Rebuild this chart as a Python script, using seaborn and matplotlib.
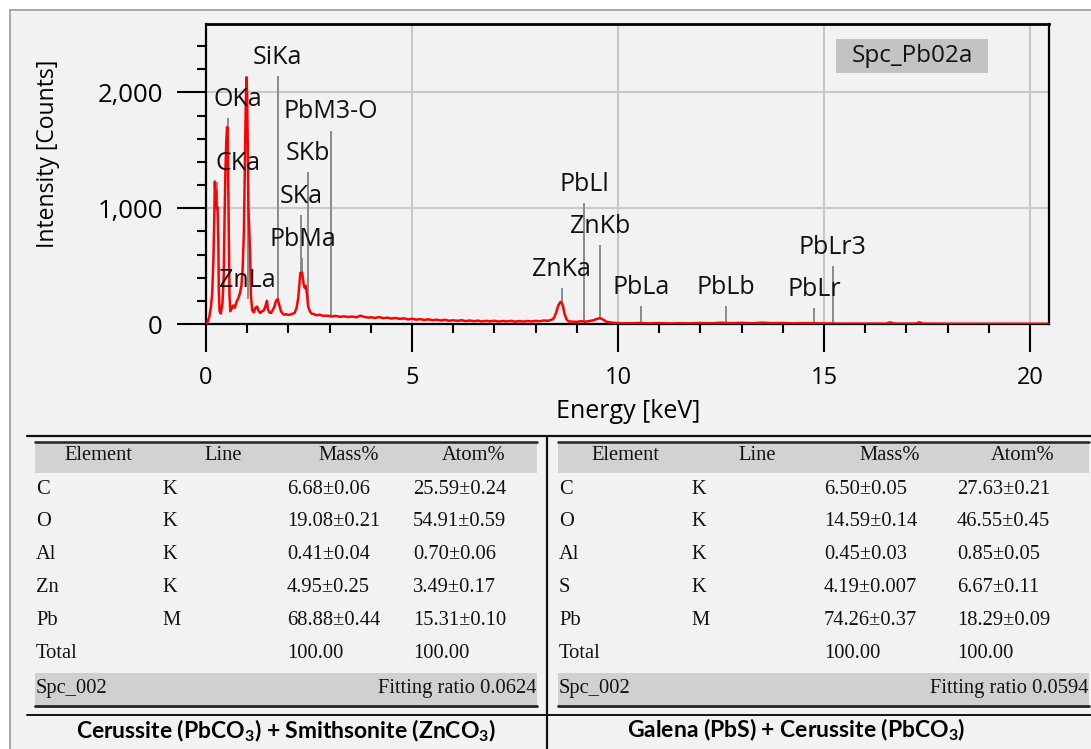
import numpy as np
import pandas as pd
import matplotlib
matplotlib.use("Agg")
import matplotlib.pyplot as plt
from matplotlib.patches import Rectangle
import seaborn as sns

# ---------------- spectrum values ----------------
energy_low = [0.00, 0.03, 0.08, 0.12, 0.15, 0.18, 0.20, 0.215, 0.23, 0.245, 0.26, 0.28, 0.30,
              0.31, 0.33, 0.36, 0.40, 0.43, 0.45, 0.47, 0.49, 0.51, 0.525, 0.54, 0.555, 0.57,
              0.59, 0.62, 0.66, 0.70, 0.74, 0.78, 0.82, 0.86, 0.89, 0.92, 0.945, 0.965, 0.985,
              1.00, 1.015, 1.03, 1.05, 1.07, 1.09, 1.12, 1.16, 1.20, 1.24, 1.28, 1.32, 1.36,
              1.40, 1.44, 1.48, 1.50, 1.54, 1.58, 1.62, 1.66, 1.70, 1.74, 1.78, 1.82, 1.86,
              1.90, 1.95, 2.00, 2.05, 2.10, 2.15, 2.20, 2.24, 2.27, 2.29, 2.31, 2.33, 2.35,
              2.37, 2.40, 2.42, 2.45, 2.48, 2.52, 2.56, 2.62, 2.68, 2.75, 2.85, 2.95, 3.05,
              3.15, 3.25, 3.35, 3.45, 3.55, 3.65, 3.75, 3.85, 3.95]
counts_low = [0, 10, 60, 150, 260, 560, 900, 1230, 1100, 1150, 1000, 1010, 700,
              300, 110, 90, 180, 420, 900, 1300, 1560, 1700, 1690, 1200, 700, 250,
              110, 130, 160, 140, 190, 220, 260, 330, 480, 800, 1400, 1900, 2130,
              1950, 1500, 1000, 800, 620, 250, 120, 100, 140, 150, 110, 95, 110,
              115, 150, 200, 130, 100, 95, 120, 150, 200, 215, 160, 110, 90,
              80, 85, 78, 82, 88, 95, 140, 230, 350, 440, 420, 445, 400,
              340, 310, 330, 260, 150, 110, 90, 85, 75, 80, 70, 72, 65,
              70, 62, 66, 60, 64, 58, 72, 60, 55]
energy_mid = [4.0, 4.1, 4.2, 4.3, 4.4, 4.5, 4.6, 4.7, 4.8, 4.9, 5.0, 5.1, 5.2, 5.3, 5.4,
              5.5, 5.6, 5.7, 5.8, 5.9, 6.0, 6.1, 6.2, 6.3, 6.4, 6.5, 6.6, 6.7, 6.8, 6.9,
              7.0, 7.1, 7.2, 7.3, 7.4, 7.5, 7.6, 7.7, 7.8, 7.9, 8.0, 8.1, 8.2, 8.3, 8.4,
              8.45, 8.5, 8.55, 8.6, 8.63, 8.66, 8.7, 8.75, 8.8, 8.9, 9.0, 9.1, 9.2, 9.3,
              9.4, 9.5, 9.55, 9.6, 9.65, 9.7, 9.8, 9.9]
counts_mid = [58, 52, 60, 50, 55, 47, 52, 44, 49, 40, 45, 38, 42, 35, 40,
              33, 37, 30, 36, 28, 32, 27, 33, 25, 30, 24, 29, 22, 27, 23,
              28, 21, 26, 22, 27, 20, 25, 21, 26, 22, 27, 24, 30, 28, 38,
              55, 100, 160, 190, 185, 160, 90, 40, 22, 20, 18, 24, 20, 25,
              32, 45, 50, 46, 35, 22, 14, 10]
energy_high = [10.0, 10.25, 10.5, 10.75, 11.0, 11.25, 11.5, 11.75, 12.0, 12.25, 12.5, 12.75,
               13.0, 13.25, 13.5, 13.75, 14.0, 14.25, 14.5, 14.75, 15.0, 15.25, 15.5, 15.75,
               16.0, 16.25, 16.5, 16.6, 16.7, 17.0, 17.25, 17.3, 17.4, 17.75, 18.0, 18.5,
               19.0, 19.5, 20.0, 20.46]
counts_high = [8, 6, 9, 5, 8, 4, 7, 5, 9, 6, 11, 7,
               10, 6, 12, 7, 9, 5, 8, 6, 5, 4, 3, 4,
               3, 4, 3, 14, 4, 3, 4, 15, 4, 3, 2, 2,
               2, 2, 2, 2]

# ---------------- identified lines ----------------
line_names = ["CKa", "OKa", "ZnLa", "SiKa", "PbMa", "SKa", "SKb", "PbM3-O",
              "ZnKa", "PbLl", "ZnKb", "PbLa", "PbLb", "PbLr", "PbLr3"]
line_energy = [0.277, 0.525, 1.012, 1.739, 2.342, 2.307, 2.464, 3.03,
               8.630, 9.184, 9.572, 10.551, 12.613, 14.764, 15.216]
line_height = [1224, 1775, 215, 2140, 570, 940, 1310, 1670,
               310, 1045, 680, 155, 155, 138, 500]

# ---------------- axis ticks ----------------
x_major = [0, 5, 10, 15, 20]
x_minor = list(range(0, 21))
y_major = [0, 1000, 2000]
y_major_labels = ["0", "1,000", "2,000"]
y_minor = list(range(0, 2600, 200))
spectrum_name = "Spc_Pb02a"

# ---------------- tables ----------------
table_header = ["Element", "Line", "Mass%", "Atom%"]
left_elements = ["C", "O", "Al", "Zn", "Pb", "Total"]
left_lines = ["K", "K", "K", "K", "M", ""]
left_mass = ["6.68±0.06", "19.08±0.21", "0.41±0.04", "4.95±0.25", "68.88±0.44", "100.00"]
left_atom = ["25.59±0.24", "54.91±0.59", "0.70±0.06", "3.49±0.17", "15.31±0.10", "100.00"]
left_fit = "Fitting ratio 0.0624"
right_elements = ["C", "O", "Al", "S", "Pb", "Total"]
right_lines = ["K", "K", "K", "K", "M", ""]
right_mass = ["6.50±0.05", "14.59±0.14", "0.45±0.03", "4.19±0.007", "74.26±0.37", "100.00"]
right_atom = ["27.63±0.21", "46.55±0.45", "0.85±0.05", "6.67±0.11", "18.29±0.09", "100.00"]
right_fit = "Fitting ratio 0.0594"
spc_id = "Spc_002"
left_caption = r"Cerussite (PbCO$_{\mathbf{3}}$) + Smithsonite (ZnCO$_{\mathbf{3}}$)"
right_caption = r"Galena (PbS) + Cerussite (PbCO$_{\mathbf{3}}$)"

# ======================================================================
sns.set_theme(style="white")
plt.rcParams['font.family'] = ['Open Sans', 'DejaVu Sans']
plt.rcParams['mathtext.fontset'] = 'custom'
plt.rcParams['mathtext.rm'] = 'Lato'
plt.rcParams['mathtext.bf'] = 'Lato:bold'

W, H = 1091, 749
BG = '#f2f2f2'
fig = plt.figure(figsize=(W / 100, H / 100), dpi=100, facecolor='white')
fig.add_artist(Rectangle((10 / W, 0), 1, 1 - 10 / H, transform=fig.transFigure,
                         facecolor=BG, edgecolor='none', zorder=-5))

def fx(px):
    return px / W

def fy(py):
    return 1 - py / H

ax = fig.add_axes([fx(206), fy(324), fx(1049) - fx(206), fy(24) - fy(324)])
ax.set_facecolor(BG)

energy = energy_low + energy_mid + energy_high
counts = counts_low + counts_mid + counts_high
df = pd.DataFrame({"Energy": energy, "Counts": counts})
sns.lineplot(data=df, x="Energy", y="Counts", color="#ff0000", lw=1.8, ax=ax, zorder=3)

# line markers
bottoms = np.interp(line_energy, energy, counts)
ax.vlines(line_energy, bottoms, line_height, color="#8a8a8a", lw=1.4, zorder=2)
label_dx = {"CKa": 15, "OKa": 7}
for name, e, h in zip(line_names, line_energy, line_height):
    ax.annotate(name, xy=(e, h), xytext=(label_dx.get(name, 0), 13.5),
                textcoords="offset points", ha="center", va="center",
                fontsize=18, color="#111111", annotation_clip=False, zorder=4)

ax.set_xlim(0, 20.46)
ax.set_ylim(0, 2590)
ax.set_xticks(x_major)
ax.set_xticks(x_minor, minor=True)
ax.set_yticks(y_major)
ax.set_yticklabels(y_major_labels)
ax.set_yticks(y_minor, minor=True)
ax.tick_params(which="both", bottom=True, left=True, top=False, right=False,
               direction="out", color="black", width=1.5, labelcolor="black")
ax.tick_params(axis="x", which="major", length=20, pad=10, labelsize=17)
ax.tick_params(axis="x", which="minor", length=6.5)
ax.tick_params(axis="y", which="major", length=21, pad=10, labelsize=18.5)
ax.tick_params(axis="y", which="minor", length=6.5)
ax.grid(True, which="major", color="#c8c8c8", lw=1.5)
ax.set_axisbelow(True)
for s in ax.spines.values():
    s.set_color("black")
    s.set_linewidth(1.6)
ax.spines["top"].set_linewidth(2.0)

ax.set_xlabel("Energy [keV]", fontsize=18, color="black")
ax.set_ylabel("Intensity [Counts]", fontsize=16.5, color="black")
ax.xaxis.set_label_coords((628 - 206) / 843, -(411 - 324) / 300)
ax.xaxis.label.set_va("center")
ax.yaxis.set_label_coords(-(206 - 48) / 843, (324 - 154) / 300)
ax.yaxis.label.set_va("center")

# ---------------- overlay in pixel coordinates ----------------
ov = fig.add_axes([0, 0, 1, 1], zorder=5)
ov.set_xlim(0, W)
ov.set_ylim(H, 0)
ov.axis("off")

# outer frame
ov.plot([10, 10], [10, H], color="#9a9a9a", lw=1.2)
ov.plot([10, W], [10, 10], color="#9a9a9a", lw=1.2)

# spectrum name box
ov.add_patch(Rectangle((836, 39), 152, 34, facecolor="#c3c3c3", edgecolor="none"))
ov.text(912, 56, spectrum_name, ha="center", va="center", fontsize=17.5, color="#111111")

# table frame lines
ov.plot([27, W], [436, 436], color="#111111", lw=1.6)
ov.plot([27, W], [715, 715], color="#111111", lw=1.4)
ov.plot([547, 547], [436, H], color="#111111", lw=1.6)

row_y = [489, 521.5, 554.5, 587.5, 620.5, 653.5]
serif = "Liberation Serif"
TFS = 14.8

def draw_table(x0, x1, col_left, head_c, elements, lines, mass, atom, fit):
    ov.add_patch(Rectangle((x0, 442), x1 - x0, 31, facecolor="#d2d2d2", edgecolor="none"))
    ov.plot([x0, x1], [441.5, 441.5], color="#222222", lw=1.8)
    ov.add_patch(Rectangle((x0, 673), x1 - x0, 32, facecolor="#d0d0d0", edgecolor="none"))
    ov.plot([x0, x1], [706, 706], color="#222222", lw=2.0)
    for txt, xc in zip(table_header, head_c):
        ov.text(xc, 456, txt, ha="center", va="center", fontsize=TFS, family=serif, color="#111111")
    for i, y in enumerate(row_y):
        for j, col in enumerate([elements, lines, mass, atom]):
            ov.text(col_left[j], y, col[i], ha="left", va="center", fontsize=TFS,
                    family=serif, color="#111111")
    ov.text(col_left[0], 688, spc_id, ha="left", va="center", fontsize=TFS, family=serif, color="#111111")
    ov.text(x1 - 1, 688, fit, ha="right", va="center", fontsize=TFS, family=serif, color="#111111")

draw_table(35, 537, [36, 162, 287, 413], [98, 223, 349, 474],
           left_elements, left_lines, left_mass, left_atom, left_fit)
draw_table(558, 1089, [559, 691, 824, 957], [625, 757, 890, 1023],
           right_elements, right_lines, right_mass, right_atom, right_fit)

ov.text(286, 731, left_caption, ha="center", va="center", fontsize=16.5,
        family="Lato", fontweight="bold", color="black")
ov.text(796, 730, right_caption, ha="center", va="center", fontsize=16.5,
        family="Lato", fontweight="bold", color="black")

fig.savefig("out.png", dpi=100, facecolor=fig.get_facecolor())
